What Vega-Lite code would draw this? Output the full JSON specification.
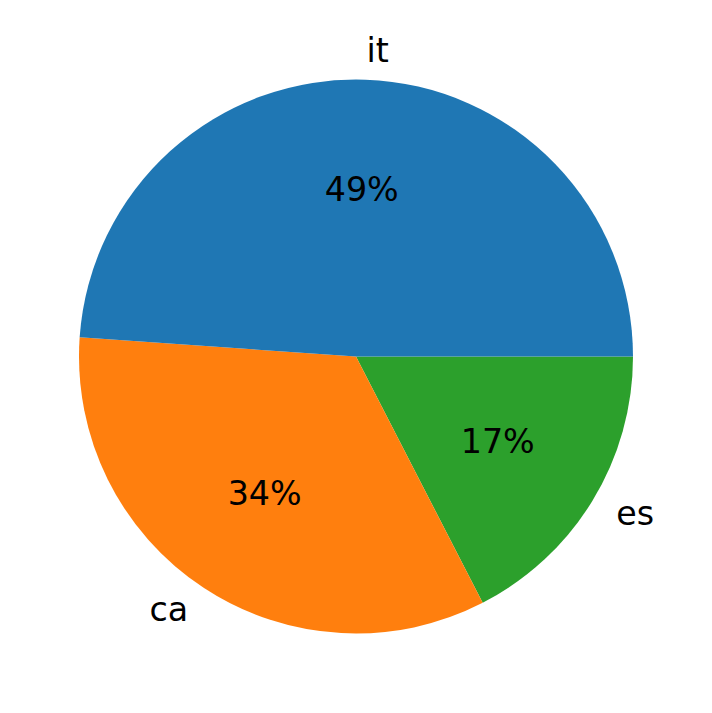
{
  "$schema": "https://vega.github.io/schema/vega-lite/v6.json",
  "width": 712,
  "height": 713,
  "autosize": {"type": "fit", "contains": "padding"},
  "padding": 0,
  "background": "white",
  "view": {"stroke": null},
  "data": {
    "values": [
      {"label": "es", "share": 17.44, "pct": "17%", "order": 1},
      {"label": "ca", "share": 33.66, "pct": "34%", "order": 2},
      {"label": "it", "share": 48.9, "pct": "49%", "order": 3}
    ]
  },
  "encoding": {
    "theta": {"field": "share", "type": "quantitative", "stack": true, "scale": {"range": [1.5707963, 7.8539816]}},
    "order": {"field": "order", "type": "quantitative"}
  },
  "layer": [
    {
      "mark": {"type": "arc", "radius": 277, "strokeWidth": 0},
      "encoding": {
        "color": {
          "field": "label",
          "type": "nominal",
          "scale": {"domain": ["it", "ca", "es"], "range": ["#1f77b4", "#ff7f0e", "#2ca02c"]},
          "legend": null
        }
      }
    },
    {
      "mark": {"type": "text", "radius": 166, "font": "DejaVu Sans", "fontSize": 33.3, "align": "center", "baseline": "middle", "color": "black"},
      "encoding": {"text": {"field": "pct", "type": "nominal"}}
    },
    {
      "mark": {"type": "text", "radius": 305, "font": "DejaVu Sans", "fontSize": 33.3, "align": "left", "baseline": "middle", "color": "black"},
      "encoding": {
        "text": {"condition": {"test": "datum.label !== 'ca'", "field": "label"}, "value": ""}
      }
    },
    {
      "mark": {"type": "text", "radius": 305, "font": "DejaVu Sans", "fontSize": 33.3, "align": "right", "baseline": "middle", "color": "black"},
      "encoding": {
        "text": {"condition": {"test": "datum.label === 'ca'", "field": "label"}, "value": ""}
      }
    }
  ]
}
